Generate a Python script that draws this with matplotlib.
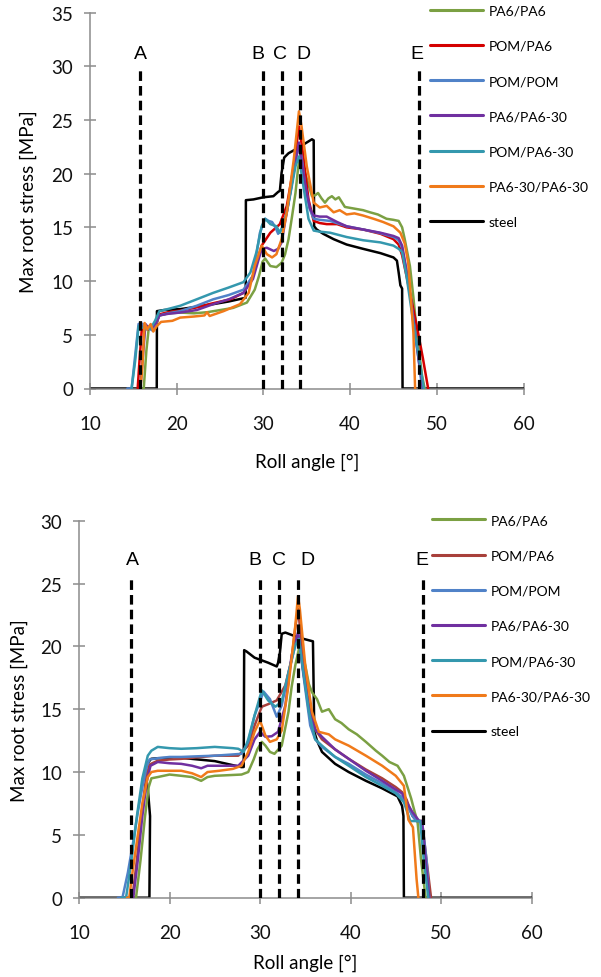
import matplotlib
matplotlib.use("Agg")
import matplotlib.pyplot as plt

plt.rcParams['font.family'] = ['Lato', 'DejaVu Sans']

# ---------------- data ----------------
series_names = ["PA6/PA6", "POM/PA6", "POM/POM", "PA6/PA6-30", "POM/PA6-30", "PA6-30/PA6-30", "steel"]
colors_top = ["#7BA043", "#D40000", "#5082C8", "#7030A0", "#3498AE", "#F07A1A", "#000000"]
colors_bot = ["#7BA043", "#A8403B", "#5082C8", "#7030A0", "#3498AE", "#F07A1A", "#000000"]

event_labels = ["A", "B", "C", "D", "E"]
event_x = [15.8, 30.0, 32.1, 34.2, 48.0]
top_label_x = [15.8, 29.4, 31.9, 34.6, 47.7]
bot_label_x = [15.9, 29.4, 32.1, 35.2, 47.9]

x_ticks = [10, 20, 30, 40, 50, 60]
top_y_ticks = [0, 5, 10, 15, 20, 25, 30, 35]
bot_y_ticks = [0, 5, 10, 15, 20, 25, 30]

# ---- top chart ----
top_pa6_pa6_x = [15.9, 16.2, 16.5, 16.8, 17.2, 17.6, 18.0, 19, 20.4, 22, 23.5, 25, 26.5, 28.1, 29.0, 29.5, 29.9, 30.2, 30.8, 31.5, 32.1, 32.5, 32.9, 33.3, 33.7, 34.0, 34.25, 34.5, 34.8, 35.2, 35.6, 36.0, 36.3, 36.7, 37.1, 37.5, 37.9, 38.3, 38.7, 39.4, 40.1, 40.8, 41.5, 42.3, 43.2, 44.2, 45.0, 45.6, 46.0, 46.3, 46.9, 47.3, 47.7, 48.0, 48.3, 48.6]
top_pa6_pa6_y = [0, 0, 3.5, 5.8, 5.5, 6.0, 6.8, 7.0, 7.07, 7.0, 7.1, 7.3, 7.5, 8.0, 9.2, 10.5, 11.8, 12.1, 11.4, 11.3, 11.7, 12.5, 13.9, 16.0, 18.2, 20.5, 21.7, 21.0, 20.1, 19.0, 17.9, 18.0, 18.2, 17.7, 17.3, 17.7, 17.9, 17.6, 17.8, 16.9, 16.8, 16.7, 16.6, 16.4, 16.2, 15.8, 15.7, 15.6, 15.0, 13.9, 11.4, 8.5, 5.2, 3.2, 1.2, 0]

top_pom_pa6_x = [15.5, 15.7, 16.0, 16.3, 16.7, 17.1, 17.5, 18.0, 19, 20.4, 22, 24, 26.2, 27.7, 28.8, 29.8, 30.8, 31.9, 32.7, 33.5, 34.1, 34.5, 35.2, 35.8, 36.5, 37.3, 38.5, 39.6, 41.5, 43.5, 45.0, 45.6, 46.0, 46.5, 46.9, 47.7, 48.4, 49.0]
top_pom_pa6_y = [0, 2.5, 5.8, 6.0, 5.5, 5.8, 5.6, 6.9, 7.1, 7.25, 7.5, 7.9, 8.3, 8.9, 10.5, 13.3, 14.5, 15.3, 17.0, 20.7, 24.4, 22.3, 17.6, 15.6, 15.4, 15.3, 15.3, 15.0, 14.8, 14.4, 13.9, 13.4, 12.4, 10.5, 8.9, 5.8, 2.8, 0]

top_pom_pom_x = [14.3, 14.8, 15.2, 15.6, 15.9, 16.3, 16.8, 17.2, 17.6, 18.0, 19, 20.4, 22.3, 24.2, 26, 27.7, 28.8, 29.6, 30.2, 30.6, 31.0, 31.4, 31.7, 32.3, 32.7, 33.1, 33.5, 33.8, 34.2, 34.5, 34.8, 35.3, 35.8, 36.5, 37.7, 39.6, 41.5, 43.3, 45.0, 45.6, 46.0, 46.5, 46.9, 47.4, 47.9, 48.3]
top_pom_pom_y = [0, 0, 3.0, 6.0, 6.1, 5.8, 5.6, 5.4, 6.0, 6.8, 7.0, 7.2, 7.7, 8.3, 8.7, 9.2, 10.5, 14.5, 15.8, 15.6, 15.5, 15.0, 14.4, 15.1, 16.5, 18.2, 20.2, 21.7, 22.6, 21.0, 18.9, 16.8, 15.8, 15.7, 15.6, 15.1, 14.8, 14.5, 14.1, 13.8, 13.1, 11.0, 8.9, 5.8, 2.7, 0]

top_pa6_pa630_x = [15.8, 16.0, 16.4, 16.8, 17.2, 17.6, 18.0, 19, 20.4, 22.3, 24.2, 26, 27.7, 28.8, 29.8, 30.4, 31.2, 31.7, 32.1, 32.5, 33.0, 33.5, 34.1, 34.6, 35.0, 35.4, 35.8, 36.5, 37.3, 38.5, 39.6, 41.5, 43.5, 45.0, 45.6, 46.0, 46.5, 46.9, 47.4, 47.9, 48.4]
top_pa6_pa630_y = [0, 2.0, 6.0, 5.6, 5.7, 6.1, 6.8, 6.95, 7.07, 7.3, 7.85, 8.3, 8.9, 10.2, 13.0, 13.1, 12.8, 13.0, 13.6, 15.5, 17.8, 20.1, 22.9, 20.1, 18.2, 16.7, 16.1, 16.0, 16.0, 15.5, 15.1, 14.8, 14.5, 14.2, 14.0, 13.3, 11.0, 8.9, 5.8, 2.7, 0]

top_pom_pa630_x = [14.8, 15.2, 15.6, 16.0, 16.5, 17.0, 17.5, 18.0, 19, 20.4, 22.3, 24.2, 26, 27.7, 28.5, 29.2, 29.8, 30.2, 30.8, 31.5, 31.9, 32.3, 32.7, 33.2, 33.7, 34.1, 34.6, 35.2, 35.8, 36.5, 37.7, 39.6, 41.5, 43.5, 45.0, 45.6, 46.0, 46.5, 46.9, 47.5, 48.1, 48.5]
top_pom_pa630_y = [0, 2.5, 5.8, 5.7, 5.5, 5.6, 6.3, 7.2, 7.4, 7.7, 8.3, 8.9, 9.4, 9.9, 10.8, 12.7, 15.1, 15.8, 15.3, 15.1, 14.5, 15.2, 16.4, 18.5, 20.7, 21.6, 18.9, 15.8, 14.7, 14.6, 14.5, 14.1, 13.8, 13.6, 13.3, 13.0, 12.7, 10.5, 8.3, 5.0, 2.1, 0]

top_pa630_pa630_x = [15.8, 16.0, 16.3, 16.6, 17.0, 17.3, 17.7, 18.2, 19.5, 20.4, 22, 23.2, 23.5, 23.8, 25.4, 27.3, 28.3, 29.0, 29.8, 30.4, 31.0, 31.5, 32.1, 32.7, 33.5, 34.1, 34.4, 35.0, 35.8, 36.5, 37.3, 38.1, 38.8, 39.6, 40.5, 41.5, 42.7, 43.8, 45.0, 45.8, 46.3, 46.7, 47.0, 47.3, 47.5]
top_pa630_pa630_y = [0, 1.5, 6.1, 5.5, 6.0, 5.3, 5.8, 6.2, 6.3, 6.6, 6.7, 6.8, 7.1, 6.75, 7.2, 7.85, 8.9, 11.4, 13.3, 12.5, 12.2, 12.5, 13.9, 16.4, 21.3, 25.8, 24.4, 20.7, 17.3, 16.85, 17.0, 16.4, 16.6, 16.2, 16.3, 16.1, 15.8, 15.5, 15.1, 14.5, 13.5, 11.7, 8.5, 5.2, 0]

top_steel_x = [10, 17.7, 17.72, 18.5, 20.4, 22.3, 24.2, 26.0, 27.7, 27.96, 27.98, 28.85, 30.0, 31.15, 31.7, 31.9, 32.1, 32.4, 32.9, 33.8, 35.0, 35.6, 35.8, 35.85, 36.15, 36.9, 38.1, 39.6, 41.5, 43.5, 45.0, 45.4, 45.6, 45.8, 46.0, 46.05, 60]
top_steel_y = [0, 0, 7.2, 7.3, 7.39, 7.6, 7.85, 8.1, 8.4, 8.45, 17.53, 17.6, 17.8, 17.9, 18.3, 18.4, 20.1, 21.5, 21.9, 22.3, 22.9, 23.2, 23.1, 15.1, 14.8, 14.4, 13.9, 13.4, 13.0, 12.6, 12.2, 11.9, 10.8, 9.6, 9.3, 0, 0]

# ---- bottom chart ----
bot_pa6_pa6_x = [16.0, 16.3, 16.8, 17.3, 17.7, 18.0, 18.7, 20, 21.3, 22.5, 23.5, 24.2, 25, 26.5, 27.96, 28.7, 29.3, 29.7, 30.2, 30.6, 31.1, 31.6, 32.4, 33.15, 33.5, 33.9, 34.4, 35.0, 35.4, 35.74, 36.3, 36.85, 37.6, 38.3, 39.0, 39.8, 40.7, 41.7, 42.8, 43.5, 44.3, 45.2, 45.9, 46.3, 46.7, 47.1, 47.4, 47.8, 48.3]
bot_pa6_pa6_y = [0, 0, 3.0, 6.5, 8.8, 9.5, 9.6, 9.8, 9.7, 9.6, 9.3, 9.6, 9.7, 9.75, 9.8, 10.0, 11.0, 11.8, 12.4, 12.1, 11.6, 11.45, 12.1, 14.8, 16.8, 18.5, 20.1, 18.5, 17.0, 16.35, 15.8, 14.8, 15.0, 14.2, 13.9, 13.4, 13.0, 12.4, 11.7, 11.3, 10.8, 10.5, 9.7, 8.8, 7.9, 6.8, 6.1, 3.0, 0]

bot_pom_pa6_x = [15.6, 15.9, 16.4, 16.9, 17.4, 17.8, 18.7, 20, 21.3, 23.5, 25, 27.6, 28.7, 29.4, 30.2, 30.9, 31.85, 32.8, 33.5, 33.9, 34.2, 34.6, 35.0, 35.4, 36.1, 36.85, 38.3, 39.8, 41.7, 43.5, 45.0, 45.7, 46.2, 46.85, 47.3, 47.9, 48.4, 48.9]
bot_pom_pa6_y = [0, 0, 3.0, 6.5, 9.5, 10.6, 10.9, 11.0, 11.05, 11.2, 11.3, 11.3, 12.1, 13.7, 15.2, 15.4, 15.7, 16.9, 19.0, 21.5, 23.0, 20.3, 17.5, 15.3, 13.4, 12.6, 11.8, 11.05, 10.2, 9.5, 8.8, 8.4, 7.8, 6.5, 6.1, 6.1, 3.0, 0]

bot_pom_pom_x = [14.3, 14.8, 15.4, 16.0, 16.5, 17.0, 17.5, 17.8, 18.7, 20, 21.3, 23, 25, 27.0, 27.96, 28.7, 29.4, 30.4, 31.1, 31.85, 32.4, 33.15, 33.9, 34.26, 34.8, 35.55, 36.1, 36.85, 38.3, 39.8, 41.7, 43.5, 45.0, 45.7, 46.2, 46.85, 47.3, 47.9, 48.4, 48.7]
bot_pom_pom_y = [0, 0, 2.0, 4.5, 6.8, 8.8, 10.5, 11.0, 11.1, 11.2, 11.2, 11.25, 11.3, 11.4, 11.45, 12.4, 14.5, 16.4, 15.8, 14.4, 15.3, 17.9, 20.1, 20.9, 17.7, 13.7, 12.6, 12.0, 11.2, 10.65, 9.8, 9.1, 8.4, 8.0, 7.4, 6.5, 6.1, 6.1, 3.0, 0]

bot_pa6_pa630_x = [15.7, 16.0, 16.5, 17.0, 17.5, 17.9, 18.7, 20, 21.3, 22.5, 23.5, 24.2, 25, 27.6, 28.7, 29.4, 30.0, 30.6, 31.3, 32.0, 32.8, 33.5, 34.2, 34.8, 35.55, 36.1, 36.85, 38.3, 39.8, 41.7, 43.5, 45.0, 45.7, 46.2, 46.85, 47.6, 47.9, 48.3, 48.7]
bot_pa6_pa630_y = [0, 0, 3.0, 6.5, 9.3, 10.5, 10.8, 10.7, 10.65, 10.5, 10.3, 10.5, 10.5, 10.5, 11.3, 12.6, 13.2, 12.8, 12.85, 13.2, 15.3, 19.3, 21.1, 17.9, 14.5, 13.4, 12.8, 11.8, 11.05, 10.1, 9.3, 8.6, 8.3, 7.6, 6.8, 6.1, 6.1, 3.0, 0]

bot_pom_pa630_x = [14.7, 15.2, 15.8, 16.4, 17.0, 17.6, 18.0, 18.7, 20, 21.3, 23, 25, 27.0, 27.6, 28.2, 28.7, 29.4, 30.2, 30.9, 31.7, 32.4, 33.15, 33.9, 34.3, 34.8, 35.4, 36.1, 36.85, 38.3, 39.8, 41.7, 43.5, 45.0, 45.9, 46.6, 47.7, 48.1, 48.6]
bot_pom_pa630_y = [0, 0, 3.0, 6.5, 9.5, 11.3, 11.7, 12.0, 11.9, 11.85, 11.9, 12.0, 11.9, 11.85, 11.6, 12.6, 14.5, 16.5, 15.7, 15.2, 15.6, 17.9, 20.1, 20.6, 17.9, 14.8, 12.6, 12.1, 11.2, 10.5, 9.6, 8.9, 8.3, 7.6, 6.1, 6.1, 3.0, 0]

bot_pa630_pa630_x = [15.3, 15.55, 16.0, 16.5, 17.0, 17.6, 18.0, 18.7, 20, 21.3, 22.5, 23.5, 24.2, 25.5, 27.0, 27.96, 28.7, 29.4, 30.0, 30.6, 31.1, 31.85, 32.4, 33.15, 33.9, 34.2, 34.4, 35.0, 35.74, 36.5, 37.6, 38.3, 39.8, 41.7, 43.5, 45.0, 45.9, 46.4, 46.9, 47.3, 47.5]
bot_pa630_pa630_y = [0, 0, 2.5, 5.0, 7.5, 9.6, 10.0, 10.1, 10.1, 10.1, 9.9, 9.6, 10.0, 10.1, 10.25, 10.5, 11.6, 13.2, 14.1, 12.9, 12.4, 12.6, 13.3, 16.9, 21.65, 24.0, 23.0, 18.5, 14.8, 13.2, 13.0, 12.6, 12.1, 11.3, 10.5, 9.7, 8.9, 6.2, 5.6, 1.5, 0]

bot_steel_x = [10, 17.78, 17.85, 17.6, 17.33, 17.48, 17.96, 18.7, 21.3, 25.0, 27.96, 28.2, 28.25, 28.5, 29.4, 30.9, 31.85, 32.0, 32.2, 32.4, 32.8, 34.26, 35.85, 36.0, 36.3, 36.85, 38.3, 39.8, 41.7, 43.5, 45.2, 45.7, 45.85, 45.9, 60]
bot_steel_y = [0, 0, 6.5, 8.7, 10.0, 10.6, 11.05, 11.1, 11.13, 10.87, 10.39, 10.4, 19.7, 19.6, 19.1, 18.7, 18.4, 18.7, 19.5, 21.0, 21.1, 20.7, 20.4, 13.2, 12.5, 11.6, 10.65, 10.0, 9.3, 8.7, 8.06, 7.3, 6.5, 0, 0]

top_series = [(top_pa6_pa6_x, top_pa6_pa6_y), (top_pom_pa6_x, top_pom_pa6_y), (top_pom_pom_x, top_pom_pom_y),
              (top_pa6_pa630_x, top_pa6_pa630_y), (top_pom_pa630_x, top_pom_pa630_y),
              (top_pa630_pa630_x, top_pa630_pa630_y), (top_steel_x, top_steel_y)]
bot_series = [(bot_pa6_pa6_x, bot_pa6_pa6_y), (bot_pom_pa6_x, bot_pom_pa6_y), (bot_pom_pom_x, bot_pom_pom_y),
              (bot_pa6_pa630_x, bot_pa6_pa630_y), (bot_pom_pa630_x, bot_pom_pa630_y),
              (bot_pa630_pa630_x, bot_pa630_pa630_y), (bot_steel_x, bot_steel_y)]

# ---------------- figure ----------------
W, H = 601, 978
fig = plt.figure(figsize=(W / 100, H / 100), dpi=100)

AX_GRAY = "#8C8C8C"


def make_panel(rect_px, series, colors, ymax, yticks, dash_top, label_y, label_x,
               ylabel_x, xlabel_y, legend_center_y, legend_left):
    l, t, r, b = rect_px
    ax = fig.add_axes([l / W, 1 - b / H, (r - l) / W, (b - t) / H])
    handles = []
    for i, ((xs, ys), name, col) in enumerate(zip(series, series_names, colors)):
        z = 2 if name == "steel" else 3 + i * 0.1
        ln, = ax.plot(xs, ys, color=col, lw=1.8, label=name, zorder=z,
                      solid_joinstyle="round", solid_capstyle="round")
        handles.append(ln)
    for ex, lx, lab in zip(event_x, label_x, event_labels):
        ax.plot([ex, ex], [0, dash_top], color="black", lw=2.3, dashes=(3.0, 1.6), zorder=10)
        ax.text(lx, label_y, lab, ha="center", va="center", fontsize=14,
                family=["Liberation Sans", "DejaVu Sans"], zorder=11)
    ax.set_xlim(10, 60)
    ax.set_ylim(0, ymax)
    ax.set_xticks(x_ticks)
    ax.set_yticks(yticks)
    for s in ["top", "right"]:
        ax.spines[s].set_visible(False)
    for s in ["left", "bottom"]:
        ax.spines[s].set_color(AX_GRAY)
        ax.spines[s].set_linewidth(1.1)
    ax.tick_params(axis="both", direction="inout", length=9, width=1.1, color=AX_GRAY,
                   labelsize=13.5, labelcolor="#111111")
    ax.tick_params(axis="y", pad=7.5)
    ax.tick_params(axis="x", pad=14.5)
    ax.set_xlabel("Roll angle [°]", fontsize=13.5)
    ax.set_ylabel("Max root stress [MPa]", fontsize=13.5)
    ax.xaxis.label.set_va("center")
    ax.yaxis.label.set_va("center")
    ax.xaxis.set_label_coords(0.5, (b - xlabel_y) / (b - t))
    ax.yaxis.set_label_coords((ylabel_x - l) / (r - l), 0.5)
    ax.patch.set_alpha(0)
    leg = fig.legend(handles=handles, labels=series_names, loc="center left",
                     bbox_to_anchor=(legend_left / W, 1 - legend_center_y / H),
                     bbox_transform=fig.transFigure, frameon=False, fontsize=10,
                     handlelength=3.8, handletextpad=0.45, labelspacing=1.67,
                     borderpad=0, borderaxespad=0)
    for lh in leg.get_lines():
        lh.set_linewidth(2.2)
    return ax


make_panel((90, 13.5, 523.5, 389.5), top_series, colors_top, 35, top_y_ticks,
           30.0, 31.2, top_label_x, 28.7, 462, 117.2, 430)
make_panel((79, 521.7, 531.5, 898.7), bot_series, colors_bot, 30, bot_y_ticks,
           25.7, 26.9, bot_label_x, 19.0, 963, 626.9, 432)

fig.savefig("out.png", dpi=100)
